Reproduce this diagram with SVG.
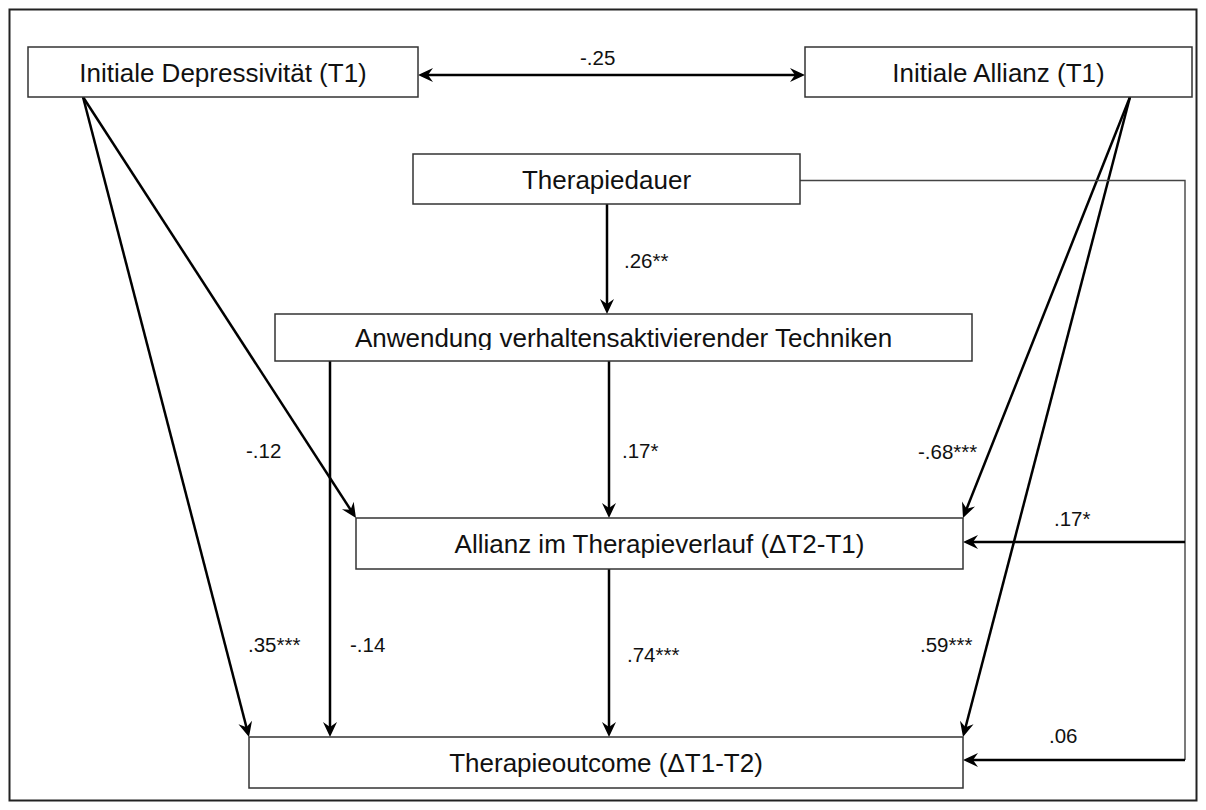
<svg xmlns="http://www.w3.org/2000/svg" width="1206" height="810" viewBox="0 0 1206 810">
<style>
.frame{fill:none;stroke:#222;stroke-width:2}
.box{fill:#fff;stroke:#333;stroke-width:1.5}
.t{font-family:"Liberation Sans",Arial,sans-serif;font-size:26px;fill:#111;text-anchor:middle}
.lbl{font-family:"Liberation Sans",Arial,sans-serif;font-size:20.5px;fill:#111}
.arr{fill:none;stroke:#000;stroke-width:2.5;marker-end:url(#ah)}
.thin{fill:none;stroke:#444;stroke-width:1.4}
</style>
<defs>
<marker id="ah" viewBox="-10 -8 17 16" refX="0" refY="0" markerWidth="17" markerHeight="16" markerUnits="userSpaceOnUse" orient="auto-start-reverse">
<path d="M6,0 L-9,-7 L-4,0 L-9,7 Z" fill="#000"/>
</marker>
<clipPath id="clipAnw"><rect x="275" y="314" width="697" height="36"/></clipPath>
</defs>
<rect class="frame" x="9.5" y="9.5" width="1187" height="791"/>
<g id="connectors">
<line class="arr" x1="424" y1="75" x2="799" y2="75" marker-start="url(#ah)"/>
<line class="arr" x1="83" y1="97" x2="352.7" y2="513"/>
<line class="arr" x1="83" y1="97" x2="247.5" y2="731.2"/>
<line class="arr" x1="1130" y1="97" x2="965.2" y2="512.4"/>
<line class="arr" x1="1130" y1="97" x2="964.5" y2="731.2"/>
<line class="arr" x1="607" y1="204" x2="607" y2="308"/>
<line class="arr" x1="609" y1="361" x2="609" y2="512"/>
<line class="arr" x1="609" y1="569" x2="609" y2="731"/>
<line class="arr" x1="330" y1="361" x2="330" y2="731"/>
<polyline class="thin" points="800,180.5 1185,180.5 1185,760"/>
<line class="arr" x1="1185" y1="542" x2="969" y2="542"/>
<line class="arr" x1="1185" y1="760" x2="969" y2="760"/>
<text class="lbl" x="580" y="65">-.25</text>
<text class="lbl" x="624" y="268">.26**</text>
<text class="lbl" x="246" y="458">-.12</text>
<text class="lbl" x="622" y="458">.17*</text>
<text class="lbl" x="918" y="459">-.68***</text>
<text class="lbl" x="1054" y="526">.17*</text>
<text class="lbl" x="248" y="652">.35***</text>
<text class="lbl" x="350" y="652">-.14</text>
<text class="lbl" x="627" y="662">.74***</text>
<text class="lbl" x="920" y="652">.59***</text>
<text class="lbl" x="1049" y="743">.06</text>
</g>
<g id="node-depressivitaet">
<rect class="box" x="28" y="47" width="390" height="50"/>
<text class="t" x="223" y="81.5">Initiale Depressivität (T1)</text>
</g>
<g id="node-allianz-t1">
<rect class="box" x="805" y="47" width="387" height="50"/>
<text class="t" x="998.5" y="81.5">Initiale Allianz (T1)</text>
</g>
<g id="node-therapiedauer">
<rect class="box" x="413" y="154" width="387" height="50"/>
<text class="t" x="606.5" y="188.5">Therapiedauer</text>
</g>
<g id="node-anwendung">
<rect class="box" x="275" y="314" width="697" height="47"/>
<text class="t" x="623.5" y="347" clip-path="url(#clipAnw)">Anwendung verhaltensaktivierender Techniken</text>
</g>
<g id="node-allianz-verlauf">
<rect class="box" x="356" y="518" width="607" height="51"/>
<text class="t" x="659.5" y="553">Allianz im Therapieverlauf (ΔT2-T1)</text>
</g>
<g id="node-outcome">
<rect class="box" x="249" y="737" width="714" height="51"/>
<text class="t" x="606" y="772">Therapieoutcome (ΔT1-T2)</text>
</g>
</svg>
